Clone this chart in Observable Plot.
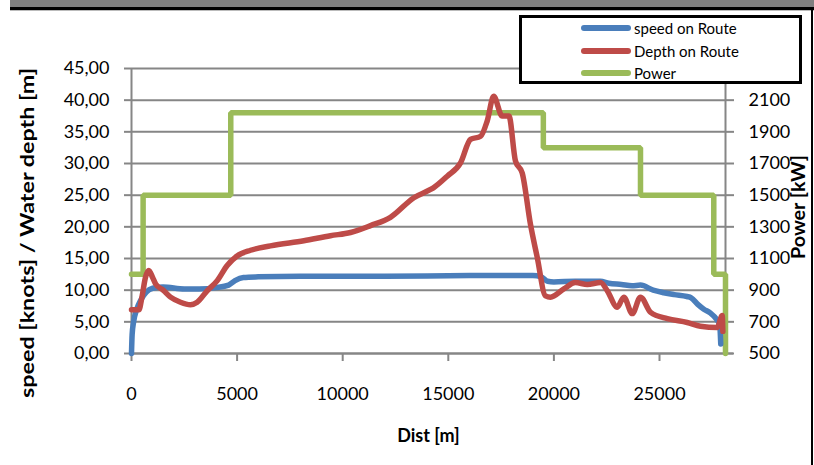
<!DOCTYPE html>
<html>
<head>
<meta charset="utf-8">
<script src="https://cdn.jsdelivr.net/npm/d3@7"></script>
<script src="https://cdn.jsdelivr.net/npm/@observablehq/plot@0.6"></script>
<style>
  body { margin: 0; background: #fff; }
  #wrap { position: relative; width: 814px; height: 465px; overflow: hidden; font-family: Lato, "Open Sans", sans-serif; }
  #wrap svg { position: absolute; left: 0; top: 0; }
  .band { position: absolute; left: 10px; top: 0; width: 804px; height: 7px; background: #808080; }
  .bandline { position: absolute; left: 10px; top: 7px; width: 804px; height: 3px; background: #000; }
  .bandline2 { position: absolute; left: 10px; top: 10px; width: 804px; height: 1px; background: #bbb; }
  .rborder { position: absolute; left: 811px; top: 10px; width: 2px; height: 455px; background: #000; }
  #legend { position: absolute; left: 519px; top: 15px; width: 277px; height: 63px; background: #fff; border: 3px solid #000; }
  .row { position: absolute; left: 0; height: 20px; width: 100%; }
  .sw { position: absolute; left: 59px; top: 7px; width: 50px; height: 6px; border-radius: 3px; }
  .lab { position: absolute; left: 112px; top: 0; font-size: 15px; line-height: 20px; color: #000; white-space: nowrap; }
</style>
</head>
<body>
<div id="wrap">
  <div class="band"></div><div class="bandline"></div><div class="bandline2"></div>
  <div class="rborder"></div>
</div>
<script>
// ---- data ----
const speedDist = [0, 30, 100, 250, 450, 700, 1000, 1500, 2500, 3200, 4000, 4600, 4900, 5300, 6000, 8000, 12000, 16000, 19000, 19400, 19700, 20000, 21000, 22200, 22600, 23200, 23700, 24100, 24700, 25200, 25700, 26300, 26500, 26800, 27100, 27400, 27700, 27850, 27900];
const speedKnots = [0, 3, 5, 7, 8.5, 9.7, 10.3, 10.5, 10.2, 10.2, 10.4, 10.8, 11.5, 12.0, 12.1, 12.2, 12.2, 12.3, 12.3, 12.1, 11.4, 11.3, 11.4, 11.4, 11.1, 10.9, 10.7, 10.8, 10.0, 9.6, 9.3, 9.0, 8.8, 7.8, 7.0, 6.4, 5.4, 4.5, 1.5];

const depthDist = [0, 350, 500, 660, 820, 1000, 1140, 1500, 1850, 2320, 2790, 3110, 3580, 4060, 4530, 5000, 5635, 6580, 8160, 9420, 10370, 11320, 12260, 13370, 14160, 14310, 14950, 15580, 16050, 16530, 16840, 17150, 17550, 17870, 18180, 18500, 18890, 19210, 19600, 19840, 20470, 21020, 21580, 22210, 22530, 23000, 23310, 23710, 24100, 24580, 25370, 26310, 26940, 27730, 27970, 28000];
const depthM = [6.9, 6.9, 9, 12, 13.1, 12, 11, 10, 8.9, 8.1, 7.7, 8.1, 9.9, 11.5, 13.9, 15.4, 16.3, 17.0, 17.8, 18.6, 19.1, 20.2, 21.5, 24.6, 25.9, 26.2, 28.0, 30.1, 33.8, 34.3, 36.7, 40.6, 37.5, 37.5, 30.4, 28.5, 20.4, 15.2, 9.1, 8.9, 10.2, 11.2, 10.9, 11.2, 9.9, 7.3, 8.9, 6.3, 8.9, 6.5, 5.5, 4.9, 4.3, 4.1, 6.0, 3.5];

const powerDist = [0, 550, 550, 4700, 4700, 19500, 19500, 24100, 24100, 27570, 27570, 28125, 28125];
const powerKW = [1000, 1000, 1500, 1500, 2020, 2020, 1800, 1800, 1500, 1500, 1000, 1000, 500];

const xTicks = [0, 5000, 10000, 15000, 20000, 25000];
const leftTicks = [0, 5, 10, 15, 20, 25, 30, 35, 40, 45];
const rightTicksKW = [500, 700, 900, 1100, 1300, 1500, 1700, 1900, 2100];

const seriesNames = ["speed on Route", "Depth on Route", "Power"];
const seriesColors = ["#4A7EBB", "#BE4B48", "#9BBB59"];

const titleLeft = "speed [knots] / Water depth [m]";
const titleRight = "Power [kW]";
const titleX = "Dist [m]";

// power (secondary axis) -> primary axis units
const kwToLeft = kw => (kw - 500) / 40;

const speed = speedDist.map((d, i) => ({d, v: speedKnots[i]}));
const depth = depthDist.map((d, i) => ({d, v: depthM[i]}));
const power = powerDist.map((d, i) => ({d, v: kwToLeft(powerKW[i])}));

const grid = "#868686";
const fmtLeft = d => d3.format(".2f")(d).replace(".", ",");

const chart = Plot.plot({
  width: 814,
  height: 465,
  marginLeft: 131,
  marginRight: 89,
  marginTop: 68,
  marginBottom: 112,
  style: {fontFamily: "Lato, 'Open Sans', sans-serif", fontSize: "18px", background: "transparent"},
  x: {domain: [0, 28125]},
  y: {domain: [0, 45]},
  marks: [
    Plot.gridY(leftTicks, {stroke: grid, strokeOpacity: 1, strokeWidth: 2}),
    Plot.ruleX([0, 28125], {stroke: grid, strokeWidth: 2}),
    Plot.axisY(leftTicks, {anchor: "left", tickSize: 7, tickPadding: 15, tickFormat: fmtLeft, stroke: grid, strokeWidth: 2, fill: "black", label: null}),
    Plot.axisY(rightTicksKW.map(kwToLeft), {anchor: "right", tickSize: 8, tickPadding: 15, tickFormat: d => String(d * 40 + 500), stroke: grid, strokeWidth: 2, fill: "black", label: null}),
    Plot.ruleY([0], {stroke: grid, strokeWidth: 2, x1: 0, x2: 28125, insetRight: -8}),
    Plot.axisX(xTicks, {anchor: "bottom", tickSize: 8, tickPadding: 26, tickFormat: d => String(d), stroke: grid, strokeWidth: 2, fill: "black", label: null}),
    Plot.line(power, {x: "d", y: "v", stroke: seriesColors[2], strokeWidth: 5.5, strokeLinejoin: "miter"}),
    Plot.line(speed, {x: "d", y: "v", stroke: seriesColors[0], strokeWidth: 5.5, curve: "monotone-x"}),
    Plot.line(depth, {x: "d", y: "v", stroke: seriesColors[1], strokeWidth: 5.5, curve: "monotone-x"}),
    Plot.text([titleX], {frameAnchor: "bottom", dy: 88, textAnchor: "middle", fontWeight: "bold", fontSize: 18, fill: "black"}),
    Plot.text([titleLeft], {frameAnchor: "left", dx: -103, dy: 22, textAnchor: "middle", rotate: -90, fontWeight: "bold", fontSize: 18, fill: "black"}),
    Plot.text([titleRight], {frameAnchor: "right", dx: 74, dy: -4, textAnchor: "middle", rotate: -90, fontWeight: "bold", fontSize: 18, fill: "black"})
  ]
});

// match the reference title lengths
chart.querySelectorAll("text").forEach(t => {
  if (t.textContent === titleLeft) { t.setAttribute("textLength", 330); t.setAttribute("lengthAdjust", "spacingAndGlyphs"); }
  if (t.textContent === titleRight) { t.setAttribute("textLength", 104); t.setAttribute("lengthAdjust", "spacingAndGlyphs"); }
});

const wrap = document.getElementById("wrap");
wrap.insertBefore(chart, wrap.firstChild);

// legend
const legend = document.createElement("div");
legend.id = "legend";
const rowTops = [0, 23, 45];
seriesNames.forEach((name, i) => {
  const row = document.createElement("div");
  row.className = "row";
  row.style.top = rowTops[i] + "px";
  const sw = document.createElement("div");
  sw.className = "sw";
  sw.style.background = seriesColors[i];
  const lab = document.createElement("div");
  lab.className = "lab";
  lab.textContent = name;
  row.appendChild(sw);
  row.appendChild(lab);
  legend.appendChild(row);
});
wrap.appendChild(legend);
</script>
</body>
</html>
